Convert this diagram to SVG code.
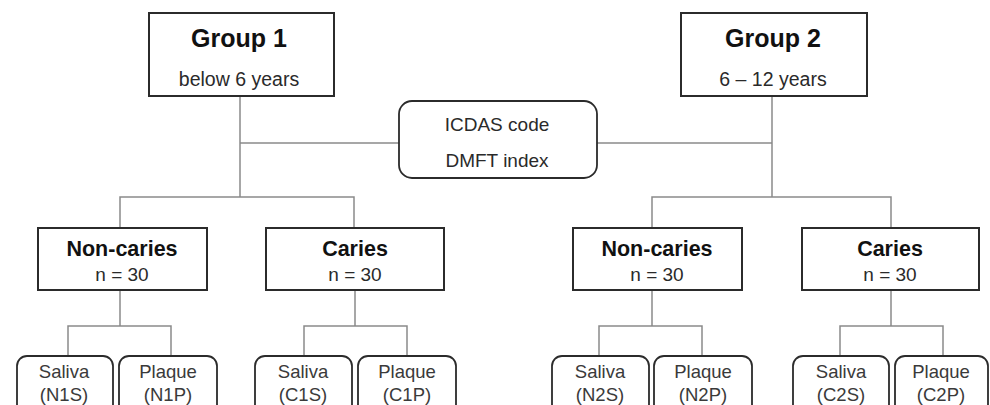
<svg xmlns="http://www.w3.org/2000/svg" width="990" height="405" viewBox="0 0 990 405">
<style>
.box{fill:#fff;stroke:#2b2b2b;stroke-width:2}
.rbox{fill:#fff;stroke:#2b2b2b;stroke-width:1.8}
.con{fill:none;stroke:#8a8a8a;stroke-width:1.5}
text{font-family:"Liberation Sans",Arial,sans-serif;text-anchor:middle;fill:#2a2a2a}
.t1{font-size:25px;font-weight:bold;fill:#111}
.t2{font-size:21.5px;font-weight:bold;fill:#111}
.s{font-size:19.5px}
.m{font-size:19px}
.l{font-size:18.5px;fill:#3a3a3a}
</style>
<rect width="990" height="405" fill="#fff"/>
<g id="connectors">
<path class="con" d="M240 96V197M240 143H399M772 96V197M597 143H772"/>
<path class="con" d="M120 228V197H354V228M652 228V197H891V228"/>
<path class="con" d="M120 290V326M68 356V326H171V356M355 290V326M304 356V326H407V356"/>
<path class="con" d="M652 290V326M599 356V326H702V356M891 290V326M840 356V326H943V356"/>
</g>
<g id="group1"><rect class="box" x="149" y="13" width="185" height="83"/><text class="t1" x="239" y="47">Group 1</text><text class="s" x="239" y="86">below 6 years</text></g>
<g id="group2"><rect class="box" x="681" y="13" width="186" height="83"/><text class="t1" x="773" y="47">Group 2</text><text class="s" x="773" y="86">6 – 12 years</text></g>
<g id="icdas"><rect class="rbox" x="399" y="101" width="198" height="77" rx="13"/><text class="m" x="497" y="131">ICDAS code</text><text class="m" x="497" y="167">DMFT index</text></g>
<g id="noncaries1"><rect class="box" x="38" y="228" width="169" height="62"/><text class="t2" x="122" y="256">Non-caries</text><text class="m" x="122" y="281">n = 30</text></g>
<g id="caries1"><rect class="box" x="266" y="228" width="178" height="62"/><text class="t2" x="355" y="256">Caries</text><text class="m" x="355" y="281">n = 30</text></g>
<g id="noncaries2"><rect class="box" x="573" y="228" width="169" height="62"/><text class="t2" x="657" y="256">Non-caries</text><text class="m" x="657" y="281">n = 30</text></g>
<g id="caries2"><rect class="box" x="802" y="228" width="177" height="62"/><text class="t2" x="890" y="256">Caries</text><text class="m" x="890" y="281">n = 30</text></g>
<g id="n1s"><rect class="rbox" x="17" y="356" width="96" height="62" rx="10"/><text class="l" x="64" y="378">Saliva</text><text class="l" x="64" y="401">(N1S)</text></g>
<g id="n1p"><rect class="rbox" x="119" y="356" width="98" height="62" rx="10"/><text class="l" x="168" y="378">Plaque</text><text class="l" x="168" y="401">(N1P)</text></g>
<g id="c1s"><rect class="rbox" x="255" y="356" width="97" height="62" rx="10"/><text class="l" x="303" y="378">Saliva</text><text class="l" x="303" y="401">(C1S)</text></g>
<g id="c1p"><rect class="rbox" x="358" y="356" width="98" height="62" rx="10"/><text class="l" x="407" y="378">Plaque</text><text class="l" x="407" y="401">(C1P)</text></g>
<g id="n2s"><rect class="rbox" x="552" y="356" width="97" height="62" rx="10"/><text class="l" x="600" y="378">Saliva</text><text class="l" x="600" y="401">(N2S)</text></g>
<g id="n2p"><rect class="rbox" x="654" y="356" width="98" height="62" rx="10"/><text class="l" x="703" y="378">Plaque</text><text class="l" x="703" y="401">(N2P)</text></g>
<g id="c2s"><rect class="rbox" x="793" y="356" width="96" height="62" rx="10"/><text class="l" x="841" y="378">Saliva</text><text class="l" x="841" y="401">(C2S)</text></g>
<g id="c2p"><rect class="rbox" x="895" y="356" width="93" height="62" rx="10"/><text class="l" x="941" y="378">Plaque</text><text class="l" x="941" y="401">(C2P)</text></g>
</svg>
